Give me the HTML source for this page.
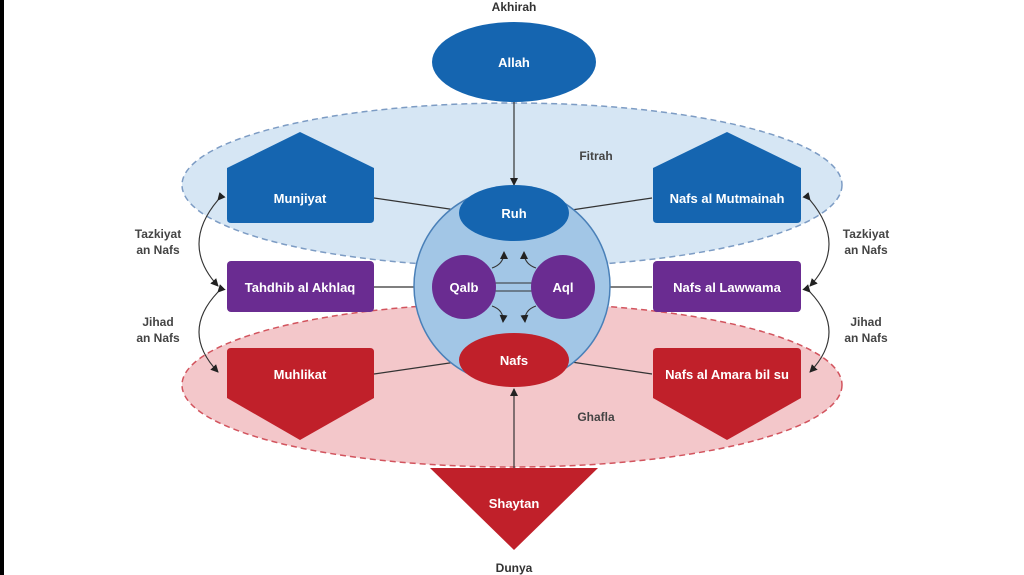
<!DOCTYPE html>
<html><head><meta charset="utf-8"><style>
html,body{margin:0;padding:0;background:#fff;}
svg{display:block;}
text{font-family:"Liberation Sans",sans-serif;font-weight:bold;}
</style></head><body>
<svg width="1024" height="575" viewBox="0 0 1024 575" xmlns="http://www.w3.org/2000/svg">
<defs>
<marker id="ah" markerWidth="8" markerHeight="8" refX="7" refY="4" orient="auto" markerUnits="userSpaceOnUse">
<path d="M0,0 L8,4 L0,8 Z" fill="#222"/></marker>
</defs>
<rect x="0" y="0" width="4" height="575" fill="#000"/>
<text x="514" y="11" font-size="12" fill="#333" text-anchor="middle" font-weight="normal">Akhirah</text>
<!-- Fitrah -->
<ellipse cx="512" cy="185" rx="330" ry="82" fill="#d6e6f4" stroke="#7d9cc4" stroke-width="1.5" stroke-dasharray="6,4"/>
<!-- Ghafla -->
<ellipse cx="512" cy="385" rx="330" ry="82" fill="#f3c7ca" stroke="#d2545e" stroke-width="1.5" stroke-dasharray="6,4"/>
<text x="596" y="160" font-size="12" fill="#444" text-anchor="middle" font-weight="normal">Fitrah</text>
<text x="596" y="421" font-size="12" fill="#444" text-anchor="middle" font-weight="normal">Ghafla</text>
<!-- connectors -->
<g stroke="#333" stroke-width="1.2" fill="none">
<line x1="374" y1="198" x2="470" y2="212"/>
<line x1="652" y1="198" x2="558" y2="212"/>
<line x1="374" y1="287" x2="440" y2="287"/>
<line x1="652" y1="287" x2="590" y2="287"/>
<line x1="374" y1="374" x2="470" y2="360"/>
<line x1="652" y1="374" x2="558" y2="360"/>
</g>
<!-- big circle -->
<circle cx="512" cy="286" r="98" fill="#a2c6e6" stroke="#4a80b8" stroke-width="1.5"/>
<!-- Allah -->
<ellipse cx="514" cy="62" rx="82" ry="40" fill="#1565b0"/>
<text x="514" y="67" font-size="13" fill="#fff" text-anchor="middle">Allah</text>
<line x1="514" y1="102" x2="514" y2="185" stroke="#333" stroke-width="1.2" marker-end="url(#ah)"/>
<!-- Ruh / Nafs -->
<ellipse cx="514" cy="213" rx="55" ry="28" fill="#1565b0"/>
<text x="514" y="218" font-size="13" fill="#fff" text-anchor="middle">Ruh</text>
<ellipse cx="514" cy="360" rx="55" ry="27" fill="#c0202a"/>
<text x="514" y="365" font-size="13" fill="#fff" text-anchor="middle">Nafs</text>
<!-- Qalb/Aql -->
<line x1="494" y1="283" x2="533" y2="283" stroke="#333" stroke-width="1"/>
<line x1="494" y1="291" x2="533" y2="291" stroke="#333" stroke-width="1"/>
<circle cx="464" cy="287" r="32" fill="#6a2c91"/>
<text x="464" y="292" font-size="13" fill="#fff" text-anchor="middle">Qalb</text>
<circle cx="563" cy="287" r="32" fill="#6a2c91"/>
<text x="563" y="292" font-size="13" fill="#fff" text-anchor="middle">Aql</text>
<g stroke="#333" stroke-width="1.1" fill="none">
<path d="M492,268 Q504,264 504,252" marker-end="url(#ah)"/>
<path d="M536,268 Q524,264 524,252" marker-end="url(#ah)"/>
<path d="M492,306 Q504,310 503,322" marker-end="url(#ah)"/>
<path d="M536,306 Q524,310 525,322" marker-end="url(#ah)"/>
</g>
<!-- left shapes -->
<path d="M227,168 L300,132 L374,168 L374,219 Q374,223 370,223 L231,223 Q227,223 227,219 Z" fill="#1565b0"/>
<text x="300" y="203" font-size="13" fill="#fff" text-anchor="middle">Munjiyat</text>
<rect x="227" y="261" width="147" height="51" rx="4" fill="#6a2c91"/>
<text x="300" y="292" font-size="13" fill="#fff" text-anchor="middle">Tahdhib al Akhlaq</text>
<path d="M231,348 L370,348 Q374,348 374,352 L374,398 L300,440 L227,398 L227,352 Q227,348 231,348 Z" fill="#c0202a"/>
<text x="300" y="379" font-size="13" fill="#fff" text-anchor="middle">Muhlikat</text>
<!-- right shapes -->
<path d="M653,168 L727,132 L801,168 L801,219 Q801,223 797,223 L657,223 Q653,223 653,219 Z" fill="#1565b0"/>
<text x="727" y="203" font-size="13" fill="#fff" text-anchor="middle">Nafs al Mutmainah</text>
<rect x="653" y="261" width="148" height="51" rx="4" fill="#6a2c91"/>
<text x="727" y="292" font-size="13" fill="#fff" text-anchor="middle">Nafs al Lawwama</text>
<path d="M657,348 L797,348 Q801,348 801,352 L801,398 L727,440 L653,398 L653,352 Q653,348 657,348 Z" fill="#c0202a"/>
<text x="727" y="379" font-size="13" fill="#fff" text-anchor="middle">Nafs al Amara bil su</text>
<!-- Shaytan -->
<path d="M430,468 L598,468 L514,550 Z" fill="#c0202a"/>
<text x="514" y="508" font-size="13" fill="#fff" text-anchor="middle">Shaytan</text>
<line x1="514" y1="468" x2="514" y2="389" stroke="#333" stroke-width="1.2" marker-end="url(#ah)"/>
<text x="514" y="572" font-size="12" fill="#333" text-anchor="middle" font-weight="normal">Dunya</text>
<!-- side arrows -->
<g stroke="#333" stroke-width="1.1" fill="none">
<path d="M218,200 Q180,245 218,286" marker-start="url(#ah)" marker-end="url(#ah)"/>
<path d="M218,292 Q180,332 218,372" marker-start="url(#ah)" marker-end="url(#ah)"/>
<path d="M810,200 Q848,245 810,286" marker-start="url(#ah)" marker-end="url(#ah)"/>
<path d="M810,292 Q848,332 810,372" marker-start="url(#ah)" marker-end="url(#ah)"/>
</g>
<g font-size="12" fill="#444" font-weight="normal" text-anchor="middle">
<text x="158" y="238">Tazkiyat</text><text x="158" y="254">an Nafs</text>
<text x="158" y="326">Jihad</text><text x="158" y="342">an Nafs</text>
<text x="866" y="238">Tazkiyat</text><text x="866" y="254">an Nafs</text>
<text x="866" y="326">Jihad</text><text x="866" y="342">an Nafs</text>
</g>
</svg>
</body></html>
